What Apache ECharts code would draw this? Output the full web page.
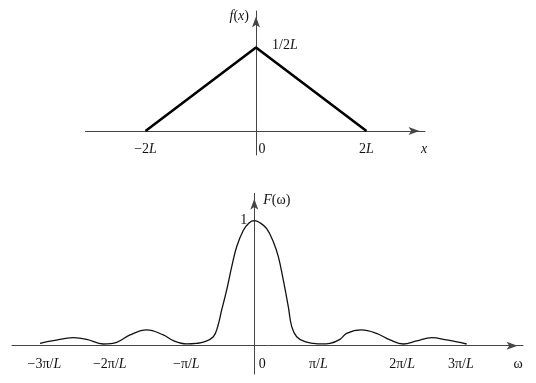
<!DOCTYPE html>
<html>
<head>
<meta charset="utf-8">
<script src="https://cdn.jsdelivr.net/npm/echarts@6/dist/echarts.min.js"></script>
<style>
html,body{margin:0;padding:0;background:#fff;}
#c{width:536px;height:383px;}
</style>
</head>
<body>
<div id="c"></div>
<script>
// ---- Top: triangle f(x) (x in units of L, peak = 1/2L with L = 1) ----
const topX = [-2, 0, 2];
const topY = [0, 0.5, 0];
const topTickVals = [-2, 0, 2];
const topTickLabels = ['−2L', '0', '2L'];
const topPeakVal = [0.5];
const topPeakLabel = ['1/2L'];

// ---- Bottom: F(omega) (omega in units of pi/L, as drawn) ----
const omega = [-3.247, -3.045, -2.742, -2.539, -2.288, -2.085, -1.883, -1.630, -1.379, -1.227,
  -1.024, -0.88, -0.76, -0.621, -0.555, -0.494, -0.418, -0.342, -0.267, -0.167, -0.08, 0,
  0.086, 0.188, 0.288, 0.364, 0.439, 0.515, 0.567, 0.642, 0.768, 0.894, 1.02, 1.147, 1.298,
  1.40, 1.62, 1.85, 2.056, 2.258, 2.461, 2.688, 2.915, 3.218];
const Fw = [0.019, 0.04, 0.064, 0.051, 0.0136, 0.027, 0.086, 0.126, 0.086, 0.04,
  0.014, 0.018, 0.03, 0.072, 0.152, 0.286, 0.446, 0.632, 0.792, 0.922, 0.982, 1,
  0.983, 0.936, 0.832, 0.712, 0.526, 0.312, 0.152, 0.072, 0.032, 0.019, 0.014, 0.019, 0.051,
  0.099, 0.126, 0.099, 0.046, 0.0136, 0.038, 0.064, 0.046, 0.0136];
const botTickVals = [-3.18, -2.19, -1.03, 0, 0.97, 2.24, 3.13];
const botTickLabels = ['−3π/L', '−2π/L', '−π/L', '0', 'π/L', '2π/L', '3π/L'];
const botPeakVal = [1];
const botPeakLabel = ['1'];

const W = 536, H = 383;
const G1 = {left: 85.5, right: 111, top: 11, bottom: 228};
const G2 = {left: 12, right: 13, top: 193.3, bottom: 9};
const X1 = {min: -3.086, max: 3.059}, Y1 = {min: -0.1437, max: 0.7186};
const X2 = {min: -3.671, max: 4.071}, Y2 = {min: -0.2264, max: 1.219};
// distance from grid edge to the zero line (so axes cross at the origin)
function xOff(g, xr) { return -((0 - xr.min) / (xr.max - xr.min)) * (W - g.left - g.right); }
function yOff(g, yr) { return -((0 - yr.min) / (yr.max - yr.min)) * (H - g.top - g.bottom); }

const FONT = '"Liberation Serif","DejaVu Serif",serif';
const FS = 14;
const rich = {
  n: {fontFamily: FONT, fontSize: FS, color: '#111'},
  i: {fontFamily: FONT, fontSize: FS, color: '#111', fontStyle: 'italic'},
  z1: {fontFamily: FONT, fontSize: FS, color: '#111', padding: [0, 0, 0, 12]},
  z2: {fontFamily: FONT, fontSize: FS, color: '#111', padding: [0, 0, 0, 16]},
  up: {fontFamily: FONT, fontSize: FS, color: '#111', padding: [0, 0, 5, 0]},
  upi: {fontFamily: FONT, fontSize: FS, color: '#111', fontStyle: 'italic', padding: [0, 0, 5, 0]}
};
function toRich(s, zeroStyle, nStyle, iStyle) {
  if (s === '0') return '{' + zeroStyle + '|0}';
  const parts = s.split('L');
  let out = '';
  parts.forEach(function (p, k) {
    if (p) out += '{' + nStyle + '|' + p + '}';
    if (k < parts.length - 1) out += '{' + iStyle + '|L}';
  });
  return out;
}
function lookup(vals, labels, v) {
  for (let k = 0; k < vals.length; k++) if (Math.abs(vals[k] - v) < 1e-9) return labels[k];
  return '';
}

const axisLineStyle = {color: '#444', width: 1};
function line() {
  return {onZero: false, lineStyle: axisLineStyle, symbol: ['none', 'arrow'], symbolSize: [6, 11], symbolOffset: [0, -5.5]};
}
const chart = echarts.init(document.getElementById('c'), null, {renderer: 'canvas'});
chart.setOption({
  animation: false,
  backgroundColor: '#fff',
  grid: [G1, G2],
  xAxis: [
    {
      gridIndex: 0, type: 'value', min: X1.min, max: X1.max, position: 'bottom', offset: yOff(G1, Y1),
      axisLine: line(), axisTick: {show: false}, splitLine: {show: false},
      axisLabel: {
        customValues: topTickVals, margin: 11,
        formatter: function (v) { return toRich(lookup(topTickVals, topTickLabels, v), 'z1', 'n', 'i'); },
        rich: rich
      },
      name: 'x', nameLocation: 'end', nameGap: -1,
      nameTextStyle: {fontFamily: FONT, fontSize: FS, fontStyle: 'italic', color: '#111', align: 'center', verticalAlign: 'top', padding: [11, 0, 0, 0]}
    },
    {
      gridIndex: 1, type: 'value', min: X2.min, max: X2.max, position: 'bottom', offset: yOff(G2, Y2),
      axisLine: line(), axisTick: {show: false}, splitLine: {show: false},
      axisLabel: {
        customValues: botTickVals, margin: 12,
        formatter: function (v) { return toRich(lookup(botTickVals, botTickLabels, v), 'z2', 'n', 'i'); },
        rich: rich
      },
      name: 'ω', nameLocation: 'end', nameGap: -5,
      nameTextStyle: {fontFamily: FONT, fontSize: FS, color: '#111', align: 'center', verticalAlign: 'top', padding: [12, 0, 0, 0]}
    }
  ],
  yAxis: [
    {
      gridIndex: 0, type: 'value', min: Y1.min, max: Y1.max, position: 'left', offset: xOff(G1, X1),
      axisLine: line(), axisTick: {show: false}, splitLine: {show: false},
      axisLabel: {
        customValues: topPeakVal, inside: true, margin: 16,
        formatter: function (v) { return toRich(lookup(topPeakVal, topPeakLabel, v), 'up', 'up', 'upi'); },
        rich: rich
      },
      name: '{i|f}{n|(}{i|x}{n|)}', nameLocation: 'end', nameGap: -5,
      nameTextStyle: {align: 'right', verticalAlign: 'middle', padding: [0, 7, 0, 0], rich: rich}
    },
    {
      gridIndex: 1, type: 'value', min: Y2.min, max: Y2.max, position: 'left', offset: xOff(G2, X2),
      axisLine: line(), axisTick: {show: false}, splitLine: {show: false},
      axisLabel: {
        customValues: botPeakVal, margin: 7,
        formatter: function (v) { return '{n|' + lookup(botPeakVal, botPeakLabel, v) + '}'; },
        rich: rich
      },
      name: '{i|F}{n|(ω)}', nameLocation: 'end', nameGap: -7,
      nameTextStyle: {align: 'left', verticalAlign: 'middle', padding: [0, 0, 0, 9], rich: rich}
    }
  ],
  series: [
    {
      type: 'line', xAxisIndex: 0, yAxisIndex: 0,
      data: topX.map(function (x, k) { return [x, topY[k]]; }),
      symbol: 'none', lineStyle: {color: '#000', width: 2.6}, z: 5
    },
    {
      type: 'line', xAxisIndex: 1, yAxisIndex: 1,
      data: omega.map(function (x, k) { return [x, Fw[k]]; }),
      symbol: 'none', smooth: 0.4, lineStyle: {color: '#111', width: 1.3}, z: 5
    }
  ]
});
</script>
</body>
</html>
